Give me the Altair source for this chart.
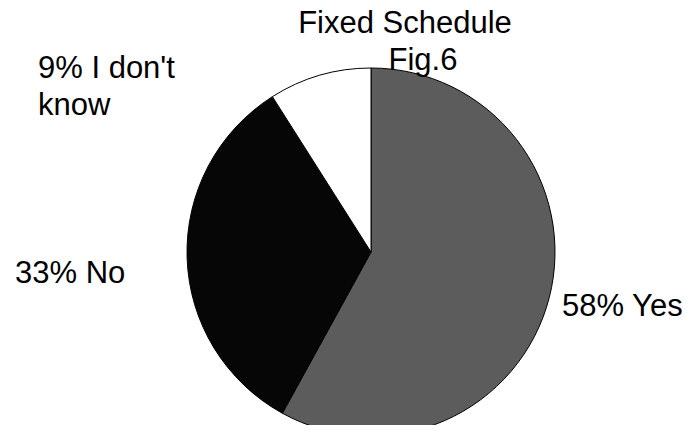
import altair as alt
import pandas as pd

# Data
categories = ["Yes", "No", "I don't know"]
percents = [58, 33, 9]
label_lines = ["58% Yes", "33% No", "9% I don't\nknow"]
colors = ["#5c5c5c", "#060606", "#ffffff"]
title_lines = ["Fixed Schedule", "Fig.6"]

df = pd.DataFrame({
    "category": categories,
    "percent": percents,
    "order": list(range(len(categories))),
    "label": label_lines,
})

CX, CY, R = 363, 244, 184
FONT = "Liberation Sans"
FS = 31

pie = alt.Chart(df).mark_arc(
    outerRadius=R, stroke="#000000", strokeWidth=1
).encode(
    theta=alt.Theta("percent:Q", stack=True),
    order=alt.Order("order:Q"),
    color=alt.Color("category:N", scale=alt.Scale(domain=categories, range=colors), legend=None),
    x=alt.value(CX),
    y=alt.value(CY),
)

def label(cat, x, y):
    return alt.Chart(df).transform_filter(
        alt.datum.category == cat
    ).mark_text(
        font=FONT, fontSize=FS, align="left", baseline="alphabetic",
        lineBreak="\n", lineHeight=37, color="#000000"
    ).encode(text="label:N", x=alt.value(x), y=alt.value(y))

lab_yes = label("Yes", 554, 308)
lab_no = label("No", 7, 275)
lab_idk = label("I don't know", 30, 70)

tdf = pd.DataFrame({"t": title_lines, "i": [0, 1]})
title1 = alt.Chart(tdf).transform_filter(alt.datum.i == 0).mark_text(
    font=FONT, fontSize=FS, align="center", baseline="alphabetic", color="#000000"
).encode(text="t:N", x=alt.value(397), y=alt.value(25))
title2 = alt.Chart(tdf).transform_filter(alt.datum.i == 1).mark_text(
    font=FONT, fontSize=FS, align="center", baseline="alphabetic", color="#000000"
).encode(text="t:N", x=alt.value(415), y=alt.value(62))

chart = alt.layer(pie, lab_yes, lab_no, lab_idk, title1, title2).properties(
    width=679, height=417, padding=0,
    autosize=alt.AutoSizeParams(type="fit", contains="padding"),
    background="#ffffff",
).configure_view(stroke=None)

chart.save("out.html", embed_options={"renderer": "svg", "actions": False})
